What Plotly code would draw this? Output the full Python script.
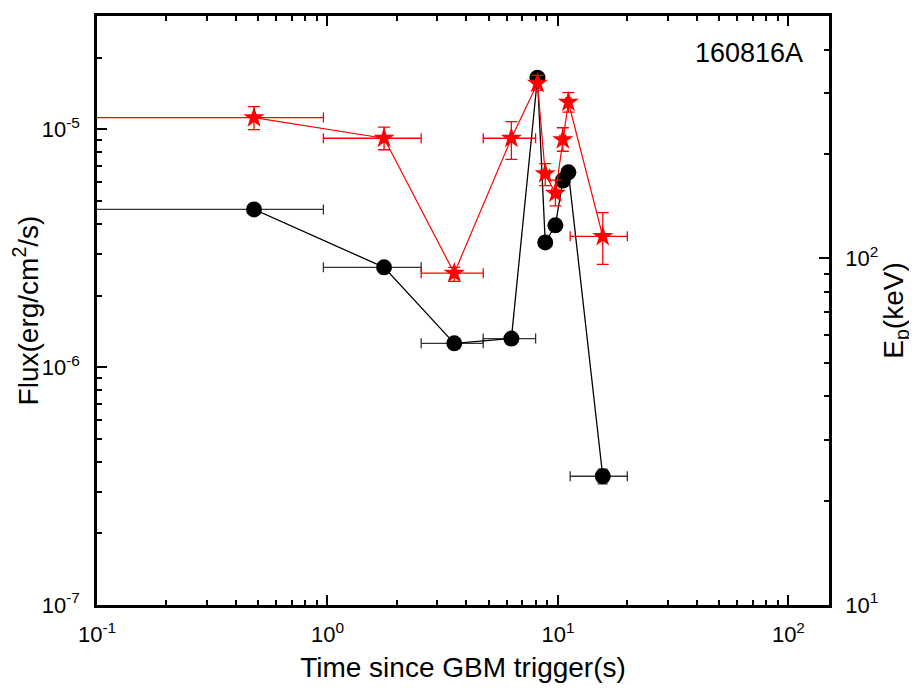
import numpy as np
import plotly.graph_objects as go

# ---- data ----
t_mid = [0.48, 1.76, 3.55, 6.28, 8.15, 8.81, 9.75, 10.5, 11.1, 15.65]
t_start = [0.0, 0.96, 2.55, 4.74, 8.0, 8.45, 9.4, 10.2, 10.8, 11.3]
t_end = [0.96, 2.55, 4.74, 8.0, 8.3, 9.2, 10.1, 10.8, 11.4, 20.0]

flux = [4.61e-6, 2.63e-6, 1.26e-6, 1.32e-6, 1.65e-5, 3.35e-6, 3.95e-6, 6.1e-6, 6.6e-6, 3.48e-7]
flux_err = [0.1e-6, 0.06e-6, 0.04e-6, 0.04e-6, 0.3e-6, 0.1e-6, 0.1e-6, 0.15e-6, 0.15e-6, 0.25e-7]

ep = [254.6, 222, 90.6, 222, 320, 175.4, 154, 220, 282, 115.7]
ep_hi = [274, 239, 94.2, 248, 337, 187.5, 168, 238, 300.6, 135.5]
ep_lo = [235, 205.7, 85.8, 193, 305, 162, 141.6, 203.6, 264, 96.1]

grb_name = "160816A"

# ---- derived error arrays ----
t = np.array(t_mid)
xminus = np.minimum(t - np.array(t_start), t * 0.98)
xplus = np.array(t_end) - t
ep_a = np.array(ep)
ep_plus = np.array(ep_hi) - ep_a
ep_minus = ep_a - np.array(ep_lo)

fig = go.Figure()

fig.add_trace(go.Scatter(
    x=t_mid, y=flux, mode="lines+markers",
    line=dict(color="black", width=1.3),
    marker=dict(symbol="circle", size=16, color="black"),
    error_x=dict(type="data", symmetric=False, array=xplus, arrayminus=xminus,
                 color="#333333", thickness=1.3, width=5),
    error_y=dict(type="data", array=flux_err, color="#333333", thickness=1.3, width=5),
    showlegend=False,
))

fig.add_trace(go.Scatter(
    x=t_mid, y=ep, mode="lines+markers", yaxis="y2",
    line=dict(color="#ff0000", width=1.2),
    marker=dict(symbol="star", size=16, color="#ff0000"),
    error_x=dict(type="data", symmetric=False, array=xplus, arrayminus=xminus,
                 color="#ff0000", thickness=1.3, width=5),
    error_y=dict(type="data", symmetric=False, array=ep_plus, arrayminus=ep_minus,
                 color="#ff0000", thickness=1.3, width=6),
    showlegend=False,
))

font_fam = "Liberation Sans, Arial, sans-serif"

def minors(lo_exp, hi_exp, upto=None):
    vals = []
    for e in range(lo_exp, hi_exp + 1):
        for m in range(2, 10):
            v = m * 10 ** e
            if upto is None or v < upto:
                vals.append(v)
    return vals

TICKF = 22
TITLEF = 28

fig.update_layout(
    width=909, height=687,
    margin=dict(l=89, r=88, t=8, b=90, autoexpand=False),
    paper_bgcolor="white", plot_bgcolor="white",
    font=dict(family=font_fam, color="black", size=20),
    xaxis=dict(
        type="log", range=[-1, np.log10(150)], automargin=False,
        showgrid=False, zeroline=False,
        showline=True, linecolor="black", linewidth=2.5, mirror="ticks",
        ticks="inside", ticklen=10, tickwidth=2, tickcolor="black",
        tickmode="array", tickvals=[0.1, 1, 10, 100],
        ticktext=["10<sup>-1</sup>", "10<sup>0</sup>", "10<sup>1</sup>", "10<sup>2</sup>"],
        tickfont=dict(size=TICKF), ticklabelstandoff=8,
        minor=dict(tickmode="array", tickvals=minors(-1, 2, upto=150), ticks="inside",
                   ticklen=5, tickwidth=1.5, tickcolor="black"),
        title=dict(text="Time since GBM trigger(s)", font=dict(size=TITLEF), standoff=12),
    ),
    yaxis=dict(
        type="log", range=[-7, np.log10(3e-5)], automargin=False,
        showgrid=False, zeroline=False,
        showline=True, linecolor="black", linewidth=2.5, mirror=False,
        ticks="inside", ticklen=10, tickwidth=2, tickcolor="black",
        tickmode="array", tickvals=[1e-7, 1e-6, 1e-5],
        ticktext=["10<sup>-7</sup>", "10<sup>-6</sup>", "10<sup>-5</sup>"],
        tickfont=dict(size=TICKF), ticklabelstandoff=10,
        minor=dict(tickmode="array", tickvals=minors(-7, -5, upto=3e-5), ticks="inside",
                   ticklen=5, tickwidth=1.5, tickcolor="black"),
        title=dict(text="Flux(erg/cm<sup>2</sup>/s)", font=dict(size=TITLEF), standoff=0),
    ),
    yaxis2=dict(
        type="log", range=[1, np.log10(500)], overlaying="y", side="right", automargin=False,
        showgrid=False, zeroline=False,
        showline=True, linecolor="black", linewidth=2.5,
        ticks="inside", ticklen=10, tickwidth=2, tickcolor="black",
        tickmode="array", tickvals=[10, 100],
        ticktext=["10<sup>1</sup>", "10<sup>2</sup>"],
        tickfont=dict(size=TICKF), ticklabelstandoff=9,
        minor=dict(tickmode="array", tickvals=minors(1, 2, upto=500), ticks="inside",
                   ticklen=5, tickwidth=1.5, tickcolor="black"),
        title=dict(text="E<sub>p</sub>(keV)", font=dict(size=TITLEF), standoff=2),
    ),
    annotations=[dict(
        text=grb_name, xref="paper", yref="paper", x=0.967, y=0.937,
        xanchor="right", yanchor="middle", showarrow=False, font=dict(size=27),
    )],
)

fig.write_html("out.html")
